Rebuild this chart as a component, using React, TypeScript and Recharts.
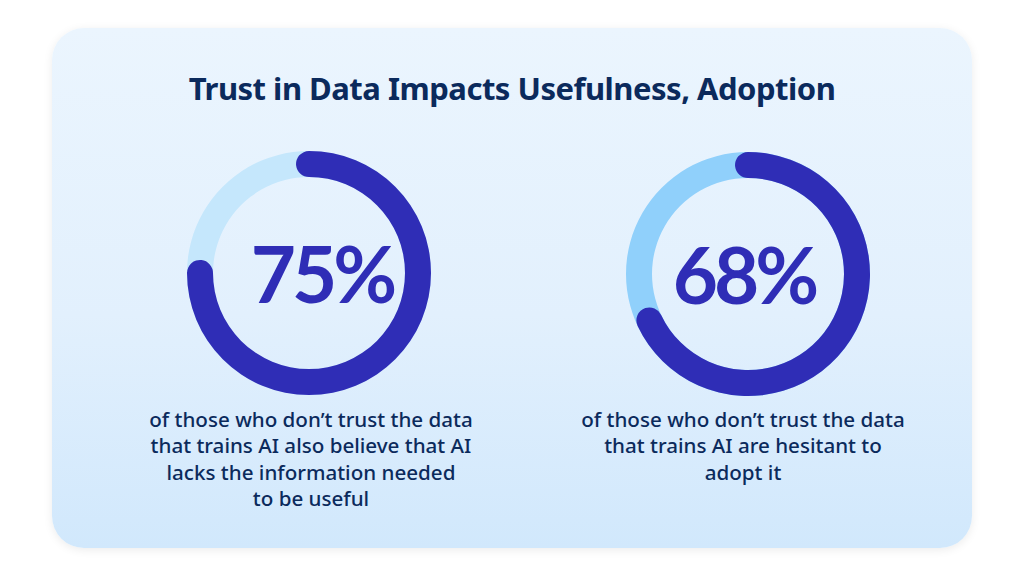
import React from 'react'
import { PieChart, Pie, Cell } from 'recharts'

const TITLE = 'Trust in Data Impacts Usefulness, Adoption'
const VALUES = [75, 68]
const CAPTIONS = [
  [
    'of those who don\u2019t trust the data',
    'that trains AI also believe that AI',
    'lacks the information needed',
    'to be useful',
  ],
  [
    'of those who don\u2019t trust the data',
    'that trains AI are hesitant to',
    'adopt it',
  ],
]

const W = 1024
const H = 576
const CENTERS = [
  { x: 309, y: 273 },
  { x: 748, y: 274 },
]
const NUM_SHIFT = [11, -6]
const TRACK_COLORS = ['#c5e7fc', '#90d0fb']
const ARC_COLOR = '#2f2db6'
const NAVY = '#0b2a5c'
const INNER = 96
const OUTER = 122
// round caps stick out past the arc ends, like stroke-linecap: round
const CAP_DEG = ((OUTER - INNER) / 2 / ((OUTER + INNER) / 2)) * (180 / Math.PI)

export default function App() {
  return (
    <div
      style={{
        position: 'absolute',
        left: 0,
        top: 0,
        width: W,
        height: H,
        background: '#ffffff',
        overflow: 'hidden',
        fontFamily: '"Noto Sans", sans-serif',
      }}
    >
      {/* card */}
      <div
        style={{
          position: 'absolute',
          left: 52,
          top: 28,
          width: 920,
          height: 520,
          borderRadius: 32,
          background: 'linear-gradient(180deg, #ebf5fe 0%, #e2f0fd 55%, #d1e8fc 100%)',
          boxShadow: '0 2px 10px rgba(0,0,0,0.08)',
        }}
      />

      <div
        style={{
          position: 'absolute',
          left: 0,
          top: 70,
          width: W,
          textAlign: 'center',
          fontSize: 31,
          lineHeight: '36px',
          fontWeight: 700,
          color: NAVY,
          letterSpacing: -0.5,
        }}
      >
        {TITLE}
      </div>

      <div style={{ position: 'absolute', left: 0, top: 0 }}>
        <PieChart width={W} height={H} margin={{ top: 0, right: 0, bottom: 0, left: 0 }}>
          {VALUES.map((v, i) => (
            <Pie
              key={`track-${i}`}
              data={[{ name: 'all', value: 100 }]}
              dataKey="value"
              cx={CENTERS[i].x}
              cy={CENTERS[i].y}
              innerRadius={INNER}
              outerRadius={OUTER}
              startAngle={90}
              endAngle={-270}
              stroke="none"
              fill={TRACK_COLORS[i]}
              isAnimationActive={false}
            />
          ))}
          {VALUES.map((v, i) => (
            <Pie
              key={`value-${i}`}
              data={[{ name: 'share', value: v }]}
              dataKey="value"
              cx={CENTERS[i].x}
              cy={CENTERS[i].y}
              innerRadius={INNER}
              outerRadius={OUTER}
              startAngle={90 + CAP_DEG}
              endAngle={90 - (360 * v) / 100 - CAP_DEG}
              cornerRadius={(OUTER - INNER) / 2}
              stroke="none"
              isAnimationActive={false}
            >
              <Cell fill={ARC_COLOR} />
            </Pie>
          ))}
        </PieChart>
      </div>

      {VALUES.map((v, i) => (
        <div
          key={`num-${i}`}
          style={{
            position: 'absolute',
            left: CENTERS[i].x - 150 + NUM_SHIFT[i] + 2,
            top: CENTERS[i].y - 50,
            width: 300,
            textAlign: 'center',
            fontFamily: 'Lato, sans-serif',
            fontSize: 78,
            lineHeight: '100px',
            fontWeight: 700,
            letterSpacing: -4,
            color: ARC_COLOR,
          }}
        >
          {v}%
        </div>
      ))}

      {CAPTIONS.map((lines, i) => (
        <div
          key={`cap-${i}`}
          style={{
            position: 'absolute',
            left: CENTERS[i].x - 200 + (i === 0 ? 2 : -5),
            top: 406,
            width: 400,
            textAlign: 'center',
            fontSize: 20.6,
            lineHeight: '26.3px',
            fontWeight: 500,
            color: NAVY,
          }}
        >
          {lines.map((l) => (
            <div key={l}>{l}</div>
          ))}
        </div>
      ))}
    </div>
  )
}
